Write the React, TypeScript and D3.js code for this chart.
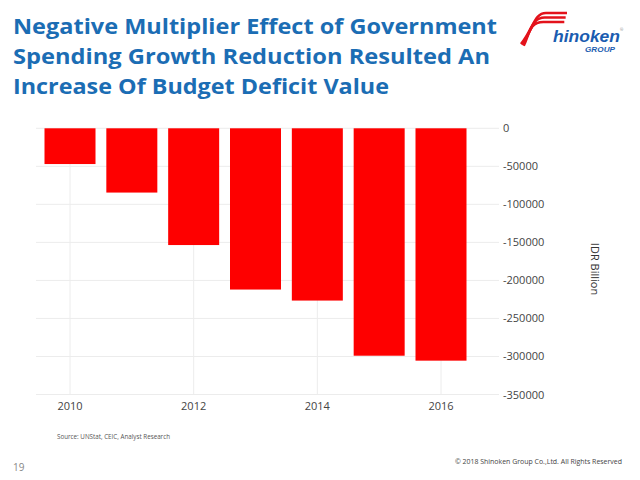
import React from "react";
import * as d3 from "d3";

const years = [2010, 2011, 2012, 2013, 2014, 2015, 2016];
const deficit = [-47000, -84500, -153500, -212000, -226500, -299000, -305500];
const yTicks = [0, -50000, -100000, -150000, -200000, -250000, -300000, -350000];
const xTicks = [2010, 2012, 2014, 2016];
const titleLines = [
  "Negative Multiplier Effect of Government",
  "Spending Growth Reduction Resulted An",
  "Increase Of Budget Deficit Value",
];
const titleWidths = [484, 477, 376];

export default function App() {
  const x = d3.scaleLinear().domain([2010, 2016]).range([70, 441]);
  const y = d3.scaleLinear().domain([-350000, 0]).range([394.5, 128.3]);
  const barW = 51;
  const font = "'Open Sans', 'Noto Sans', sans-serif";
  const tickColor = "#444";

  return (
    <svg
      width={640}
      height={480}
      viewBox="0 0 640 480"
      style={{ position: "absolute", left: 0, top: 0, background: "#fff" }}
    >
      <rect x={0} y={0} width={640} height={480} fill="#fff" />
      {/* Title */}
      {titleLines.map((t, i) => (
        <text
          key={t}
          x={13}
          y={34 + i * 30}
          fill="#1b6db4"
          fontFamily={font}
          fontWeight="bold"
          fontSize={21}
          textLength={titleWidths[i]}
          lengthAdjust="spacingAndGlyphs"
        >
          {t}
        </text>
      ))}

      {/* Logo */}
      <g>
        {[0, 4.5, 9].map((o, i) => (
          <path
            key={i}
            d={`M ${567 - o * 0.3} ${13 + o} L ${546 - o * 0.3} ${13 + o} C ${534 - o * 0.5} ${13 + o}, ${534 - o * 0.5} ${28 + o * 0.6}, ${521 + o * 0.3} ${44 + o * 0.2}`}
            fill="none"
            stroke="#e3121b"
            strokeWidth={2.6}
          />
        ))}
        <text
          x={553}
          y={42}
          fill="#1a5cb0"
          fontFamily="'Liberation Sans', Arial, sans-serif"
          fontWeight="bold"
          fontStyle="italic"
          fontSize={17}
          textLength={67}
          lengthAdjust="spacingAndGlyphs"
        >
          hinoken
        </text>
        <text x={620} y={31} fill="#888" fontFamily={font} fontSize={4}>
          ®
        </text>
        <text
          x={585}
          y={52}
          fill="#1a5cb0"
          fontFamily="'Liberation Sans', Arial, sans-serif"
          fontWeight="bold"
          fontStyle="italic"
          fontSize={7.5}
          textLength={30}
          lengthAdjust="spacingAndGlyphs"
        >
          GROUP
        </text>
      </g>

      {/* Grid */}
      {yTicks.map((t) => (
        <line
          key={"gy" + t}
          x1={36}
          x2={499}
          y1={y(t)}
          y2={y(t)}
          stroke="#ececec"
          strokeWidth={1}
        />
      ))}
      {xTicks.map((t) => (
        <line
          key={"gx" + t}
          x1={x(t)}
          x2={x(t)}
          y1={y(0)}
          y2={y(-350000)}
          stroke="#ececec"
          strokeWidth={1}
        />
      ))}

      {/* Bars */}
      {years.map((yr, i) => (
        <rect
          key={yr}
          x={x(yr) - barW / 2}
          y={y(0)}
          width={barW}
          height={y(deficit[i]) - y(0)}
          fill="#fe0000"
        />
      ))}

      {/* Y tick labels */}
      {yTicks.map((t) => (
        <text
          key={"ty" + t}
          x={503}
          y={y(t) + 4}
          fill={tickColor}
          fontFamily={font}
          fontSize={11}
        >
          {t === 0 ? "0" : "-" + Math.abs(t)}
        </text>
      ))}

      {/* X tick labels */}
      {xTicks.map((t) => (
        <text
          key={"tx" + t}
          x={x(t)}
          y={410}
          textAnchor="middle"
          fill={tickColor}
          fontFamily={font}
          fontSize={11}
        >
          {t}
        </text>
      ))}

      {/* Y axis title */}
      <text
        transform="translate(591,269) rotate(90)"
        textAnchor="middle"
        fill="#333"
        fontFamily={font}
        fontSize={11}
      >
        IDR Billion
      </text>

      {/* Footer */}
      <text
        x={57}
        y={439}
        fill="#555"
        fontFamily={font}
        fontSize={6.5}
        textLength={113}
        lengthAdjust="spacingAndGlyphs"
      >
        Source: UNStat, CEIC, Analyst Research
      </text>
      <text x={13} y={471} fill="#888" fontFamily={font} fontSize={10}>
        19
      </text>
      <text
        x={622}
        y={464}
        textAnchor="end"
        fill="#444"
        fontFamily={font}
        fontSize={7}
        textLength={167}
        lengthAdjust="spacingAndGlyphs"
      >
        © 2018 Shinoken Group Co.,Ltd. All Rights Reserved
      </text>
    </svg>
  );
}
